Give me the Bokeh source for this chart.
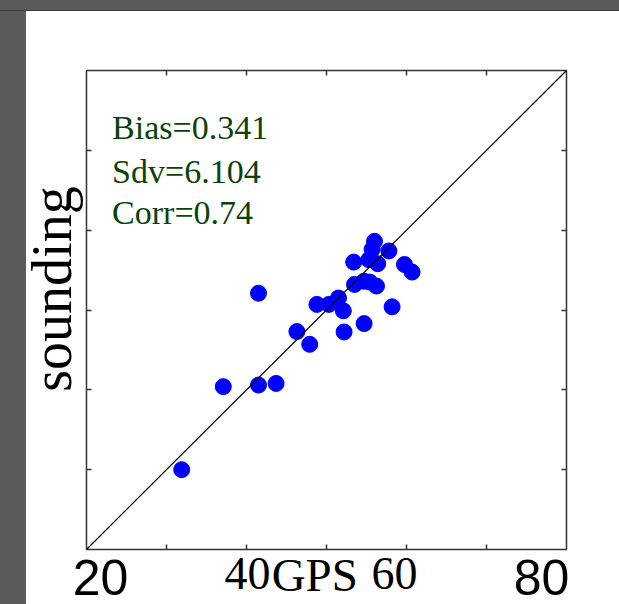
from bokeh.plotting import figure
from bokeh.models import LinearAxis, Range1d, FixedTicker, Label, Slope, ColumnDataSource
from bokeh.layouts import column
from bokeh.embed import file_html
from bokeh.resources import INLINE

# ---- data ----
gps = [31.9, 37.1, 41.5, 43.7, 41.5, 46.3, 47.9, 48.8, 50.3, 51.5, 52.1, 52.2,
       54.7, 58.2, 53.5, 54.7, 55.4, 56.25, 53.4, 55.3, 56.4, 59.75, 60.7,
       56.0, 55.7, 57.8]
sounding = [30.0, 40.4, 40.6, 40.8, 52.1, 47.3, 45.7, 50.7, 50.7, 51.5, 49.9, 47.25,
            48.3, 50.4, 53.2, 53.6, 53.5, 53.0, 56.0, 56.3, 55.8, 55.7, 54.75,
            58.6, 57.6, 57.4]
axis_limits = [20, 80]
x_tick_positions = [30, 40, 50, 60, 70]
y_tick_positions = [30, 40, 50, 60, 70]
x_tick_labels_outer = [20, 80]   # drawn in a sans face in the reference
x_tick_labels_inner = [40, 60]   # drawn in a serif face in the reference
stats_lines = ["Bias=0.341", "Sdv=6.104", "Corr=0.74"]
stats_y = [72.8, 67.4, 62.2]
x_title = "GPS"
y_title = "sounding"

src = ColumnDataSource(data=dict(gps=gps, sounding=sounding))

p = figure(width=619, height=604,
           x_range=Range1d(axis_limits[0], axis_limits[1]),
           y_range=Range1d(axis_limits[0], axis_limits[1]),
           output_backend="svg", toolbar_location=None,
           x_axis_location=None, y_axis_location=None,
           min_border_left=86, min_border_right=53,
           min_border_top=70, min_border_bottom=55)
p.outline_line_color = "#333333"
p.outline_line_width = 1.5
p.background_fill_color = "white"
p.border_fill_color = None
for g in p.grid:
    g.visible = False


def tick_axis(ticks, **kw):
    return LinearAxis(ticker=FixedTicker(ticks=[], minor_ticks=ticks),
                      major_tick_in=0, major_tick_out=0,
                      minor_tick_in=5, minor_tick_out=0,
                      major_label_standoff=0,
                      axis_line_color=None, minor_tick_line_color="#333333",
                      minor_tick_line_width=1.5, **kw)


p.add_layout(tick_axis(x_tick_positions), "below")
p.add_layout(tick_axis(x_tick_positions), "above")
p.add_layout(tick_axis(y_tick_positions, axis_label="\u00a0\u00a0\u00a0" + y_title,
                       axis_label_standoff=4,
                       axis_label_text_font="Liberation Serif",
                       axis_label_text_font_size="56px",
                       axis_label_text_font_style="normal",
                       axis_label_text_color="black"), "left")
p.add_layout(tick_axis(y_tick_positions), "right")

# label axes (labels in the reference sit slightly off the tick marks)
p.extra_x_ranges = {"lab": Range1d(18.095, 83.4)}
lab_a = LinearAxis(x_range_name="lab", ticker=FixedTicker(ticks=x_tick_labels_outer),
                   major_tick_in=0, major_tick_out=0, minor_tick_in=0, minor_tick_out=0,
                   axis_line_color=None, major_label_standoff=10,
                   major_label_text_font="Liberation Sans",
                   major_label_text_font_size="50px",
                   major_label_text_color="black")
p.add_layout(lab_a, "below")
lab_b = LinearAxis(x_range_name="lab", ticker=FixedTicker(ticks=x_tick_labels_inner),
                   major_tick_in=0, major_tick_out=0, minor_tick_in=0, minor_tick_out=0,
                   axis_line_color=None, major_label_standoff=-40,
                   major_label_text_font="Liberation Serif",
                   major_label_text_font_size="46px",
                   major_label_text_color="black",
                   axis_label=x_title + "\u00a0\u00a0",
                   axis_label_standoff=-43,
                   axis_label_text_font="Liberation Serif",
                   axis_label_text_font_size="47px",
                   axis_label_text_font_style="normal",
                   axis_label_text_color="black")
p.add_layout(lab_b, "below")

# 1:1 line
p.add_layout(Slope(gradient=1, y_intercept=0, line_color="black", line_width=1.2))

p.scatter("gps", "sounding", source=src, size=16, color="#0000ff", line_color="#0000ff")

for txt, yy in zip(stats_lines, stats_y):
    p.add_layout(Label(x=23.2, y=yy, text=txt, text_font="Liberation Serif",
                       text_font_size="34px", text_color="#0a420a",
                       text_baseline="alphabetic", text_align="left"))

bg = ("linear-gradient(to bottom, #5b5b5b 0px, #5b5b5b 10px, #3a3a3a 10px, "
      "#3a3a3a 11px, rgba(0,0,0,0) 11px), "
      "linear-gradient(to right, #5b5b5b 26px, #ffffff 26px)")
layout = column(p, width=619, height=604,
                styles={"background": bg, "overflow": "hidden"})

open("out.html", "w").write(file_html(layout, INLINE))
